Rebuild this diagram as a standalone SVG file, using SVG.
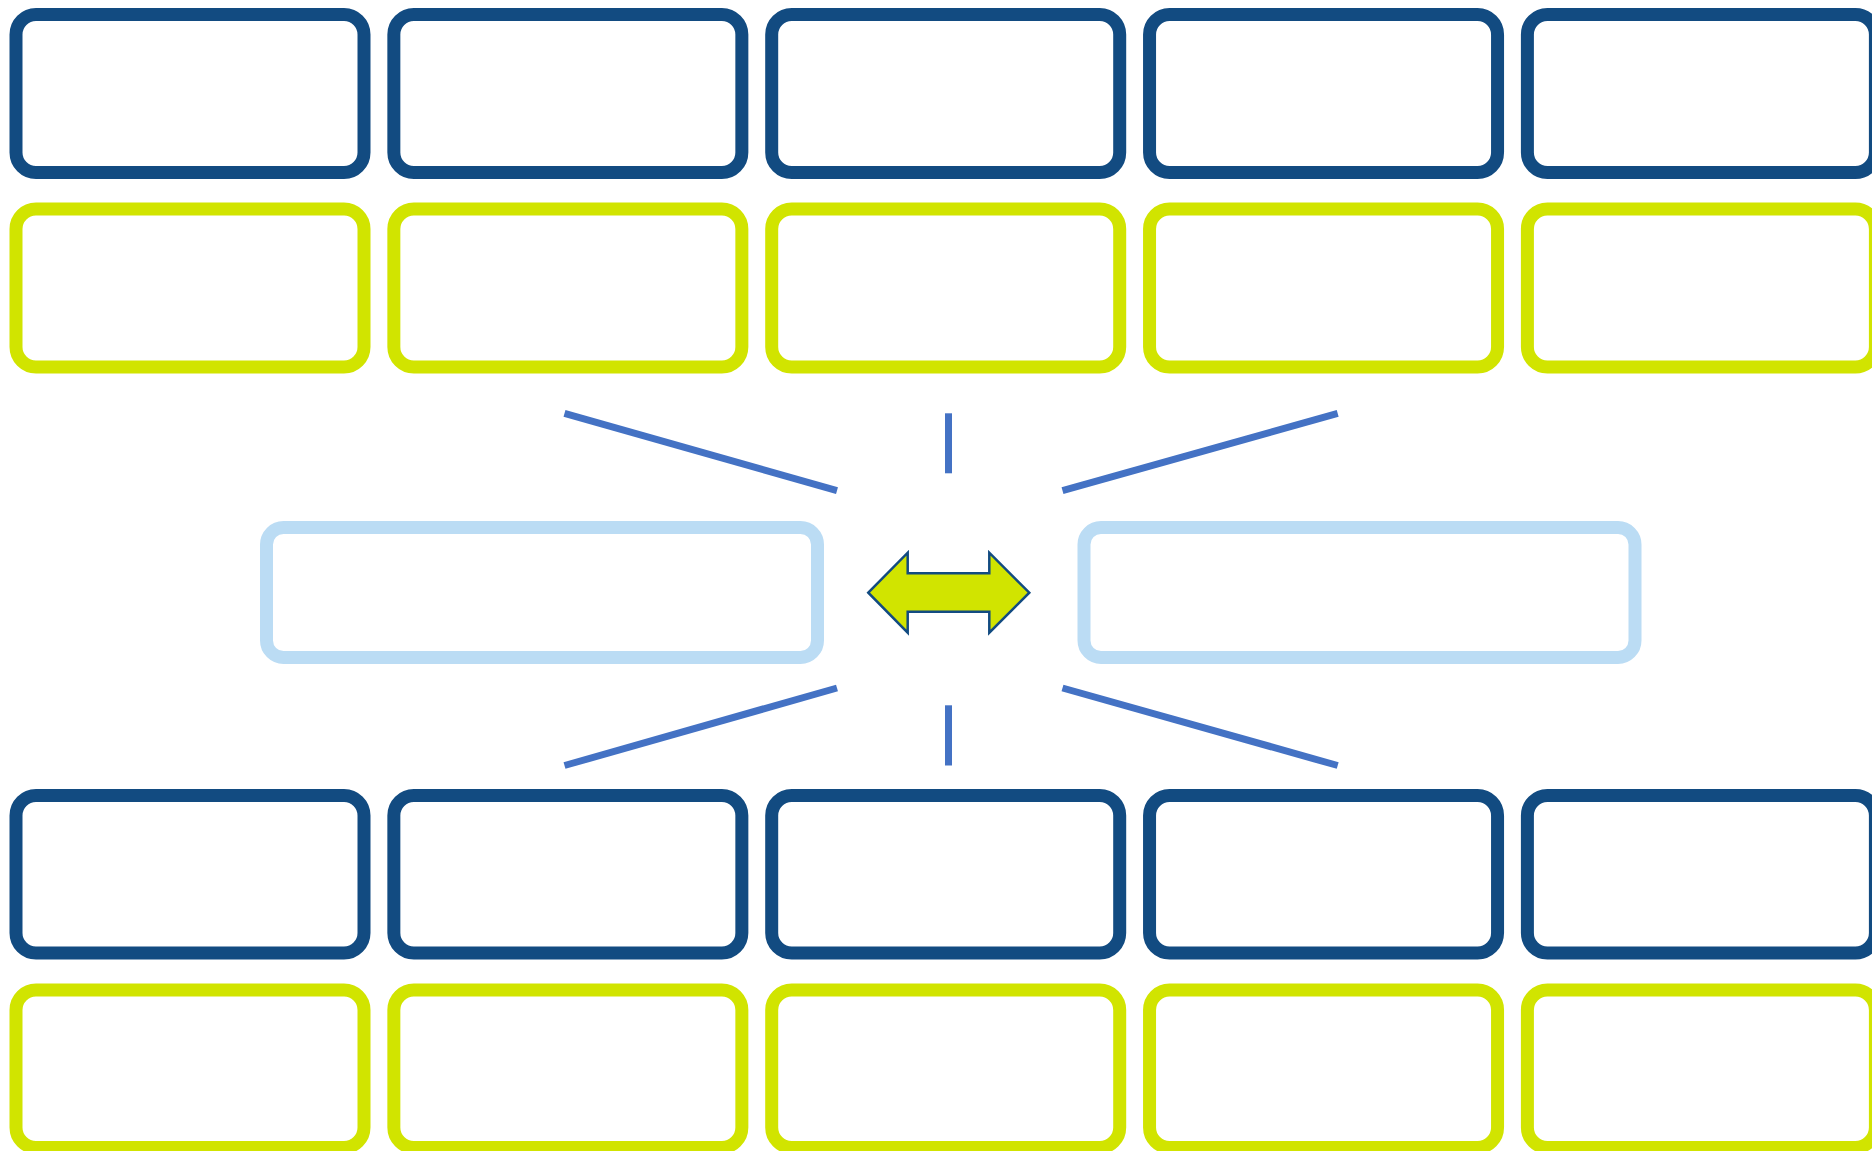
<svg xmlns="http://www.w3.org/2000/svg" width="1872" height="1151" viewBox="0 0 1872 1151">
  <style>
    .blue { fill: #ffffff; stroke: #124B81; stroke-width: 13; }
    .green { fill: #ffffff; stroke: #D1E400; stroke-width: 13; }
    .light { fill: #ffffff; stroke: #BBDCF4; stroke-width: 13; }
    .conn { stroke: #4472C4; stroke-width: 7; fill: none; }
    .arrow { fill: #D1E400; stroke: #124B81; stroke-width: 2.5; stroke-linejoin: miter; }
  </style>
  <rect width="1872" height="1151" fill="#ffffff"/>

  <g id="connectors">
    <line class="conn" x1="564.5" y1="413.3" x2="837" y2="490.7"/>
    <line class="conn" x1="948.5" y1="413.3" x2="948.5" y2="473.3"/>
    <line class="conn" x1="1337.7" y1="413.3" x2="1062.5" y2="490.7"/>
    <line class="conn" x1="837" y1="688" x2="564.5" y2="765.5"/>
    <line class="conn" x1="948.5" y1="705.3" x2="948.5" y2="765.5"/>
    <line class="conn" x1="1062.5" y1="688" x2="1337.7" y2="765.5"/>
  </g>

  <g id="top-blue-1"><rect class="blue" x="16" y="14.5" width="348" height="158" rx="20"/></g>
  <g id="top-blue-2"><rect class="blue" x="393.85" y="14.5" width="348" height="158" rx="20"/></g>
  <g id="top-blue-3"><rect class="blue" x="771.7" y="14.5" width="348" height="158" rx="20"/></g>
  <g id="top-blue-4"><rect class="blue" x="1149.55" y="14.5" width="348" height="158" rx="20"/></g>
  <g id="top-blue-5"><rect class="blue" x="1527.4" y="14.5" width="348" height="158" rx="20"/></g>

  <g id="top-green-1"><rect class="green" x="16" y="209" width="348" height="158" rx="20"/></g>
  <g id="top-green-2"><rect class="green" x="393.85" y="209" width="348" height="158" rx="20"/></g>
  <g id="top-green-3"><rect class="green" x="771.7" y="209" width="348" height="158" rx="20"/></g>
  <g id="top-green-4"><rect class="green" x="1149.55" y="209" width="348" height="158" rx="20"/></g>
  <g id="top-green-5"><rect class="green" x="1527.4" y="209" width="348" height="158" rx="20"/></g>

  <g id="mid-left"><rect class="light" x="266.5" y="527.5" width="551" height="130" rx="17"/></g>
  <g id="mid-right"><rect class="light" x="1084" y="527.5" width="551" height="130" rx="17"/></g>

  <g id="double-arrow">
    <polygon class="arrow" points="868.3,592.7 907.7,552.7 907.7,573.3 989.3,573.3 989.3,552.7 1029.3,592.7 989.3,632.7 989.3,611.7 907.7,611.7 907.7,632.7"/>
  </g>

  <g id="bottom-blue-1"><rect class="blue" x="16" y="795.5" width="348" height="157.5" rx="20"/></g>
  <g id="bottom-blue-2"><rect class="blue" x="393.85" y="795.5" width="348" height="157.5" rx="20"/></g>
  <g id="bottom-blue-3"><rect class="blue" x="771.7" y="795.5" width="348" height="157.5" rx="20"/></g>
  <g id="bottom-blue-4"><rect class="blue" x="1149.55" y="795.5" width="348" height="157.5" rx="20"/></g>
  <g id="bottom-blue-5"><rect class="blue" x="1527.4" y="795.5" width="348" height="157.5" rx="20"/></g>

  <g id="bottom-green-1"><rect class="green" x="16" y="990" width="348" height="157.5" rx="20"/></g>
  <g id="bottom-green-2"><rect class="green" x="393.85" y="990" width="348" height="157.5" rx="20"/></g>
  <g id="bottom-green-3"><rect class="green" x="771.7" y="990" width="348" height="157.5" rx="20"/></g>
  <g id="bottom-green-4"><rect class="green" x="1149.55" y="990" width="348" height="157.5" rx="20"/></g>
  <g id="bottom-green-5"><rect class="green" x="1527.4" y="990" width="348" height="157.5" rx="20"/></g>
</svg>
